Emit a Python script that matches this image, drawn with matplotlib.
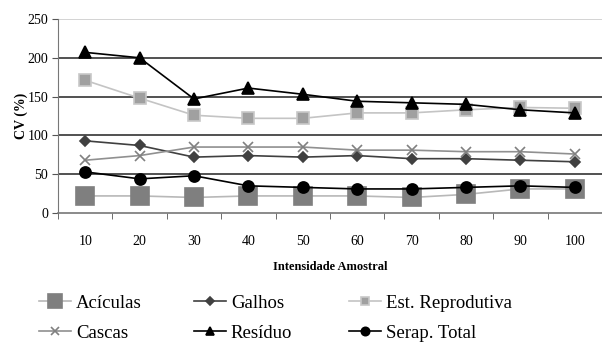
import matplotlib
matplotlib.use("Agg")
import matplotlib.pyplot as plt
import numpy as np

plt.rcParams["font.family"] = ["Liberation Serif", "DejaVu Serif"]

categories = ["10", "20", "30", "40", "50", "60", "70", "80", "90", "100"]
aciculas = [22, 22, 20, 22, 22, 22, 20, 24, 31, 31]
galhos = [93, 87, 72, 74, 72, 74, 70, 70, 68, 66]
est_reprodutiva = [171, 148, 126, 122, 122, 129, 129, 133, 136, 135]
cascas = [68, 74, 85, 85, 85, 81, 81, 79, 79, 76]
residuo = [207, 200, 147, 161, 153, 144, 142, 140, 133, 129]
serap_total = [53, 44, 48, 35, 33, 31, 31, 33, 35, 33]

# (label, values, line colour, marker, marker face, marker edge, size)
SERIES = [
    ("Acículas", aciculas, "#b8b8b8", "s", "#7f7f7f", "#7f7f7f", 13),
    ("Galhos", galhos, "#404040", "D", "#404040", "#404040", 5),
    ("Est. Reprodutiva", est_reprodutiva, "#c4c4c4", "s", "#a0a0a0", "#c8c8c8", 8),
    ("Cascas", cascas, "#909090", "x", "#808080", "#808080", 7),
    ("Resíduo", residuo, "#000000", "^", "#000000", "#000000", 8),
    ("Serap. Total", serap_total, "#000000", "o", "#000000", "#000000", 8),
]

fig = plt.figure(figsize=(6.02, 3.43), dpi=100)
ax = fig.add_axes([58 / 602, 1 - 213 / 343, 1 - 58 / 602, 194 / 343])

x = np.arange(len(categories))
lines = []
for label, vals, lc, mk, mfc, mec, ms in SERIES:
    ln, = ax.plot(x, vals, color=lc, lw=1.2, marker=mk, markerfacecolor=mfc,
                  markeredgecolor=mec, markersize=ms, markeredgewidth=1.2,
                  label=label, zorder=3)
    lines.append(ln)

ax.set_xlim(-0.5, len(categories) - 0.5)
ax.set_ylim(0, 250)
ax.set_yticks([0, 50, 100, 150, 200, 250])
for v in [50, 100, 150, 200]:
    ax.axhline(v, color="#222222", lw=1.1, zorder=1)
ax.axhline(250, color="#cccccc", lw=1.2, zorder=1)

ax.set_xticks(x)
ax.set_xticklabels(categories)
ax.set_xticks(np.arange(len(categories) + 1) - 0.5, minor=True)
ax.tick_params(axis="x", which="major", length=0, pad=16, labelsize=10)
ax.tick_params(axis="x", which="minor", length=4, color="#555555", direction="out")
ax.tick_params(axis="y", length=4, color="#555555", labelsize=10, pad=3)

for s in ["top", "right"]:
    ax.spines[s].set_visible(False)
ax.spines["left"].set_color("#777777")
ax.spines["bottom"].set_color("#777777")
ax.spines["bottom"].set_linewidth(1.2)

ax.set_ylabel("CV (%)", fontsize=10, fontweight="bold", labelpad=0)
ax.set_xlabel("Intensidade Amostral", fontsize=9, fontweight="bold", labelpad=9)

# legend: three single-column blocks, read row-wise like the original
col_x = [30 / 602, 185 / 602, 340 / 602]
for c in range(3):
    hs = [lines[c], lines[c + 3]]
    leg = fig.legend(hs, [h.get_label() for h in hs], loc="upper left",
                     bbox_to_anchor=(col_x[c], 1 - 285 / 343), ncol=1,
                     frameon=False, fontsize=13.5, handlelength=1.7,
                     handletextpad=0.25, labelspacing=0.7, borderpad=0,
                     markerscale=0.75)

fig.savefig("out.png", dpi=100)
